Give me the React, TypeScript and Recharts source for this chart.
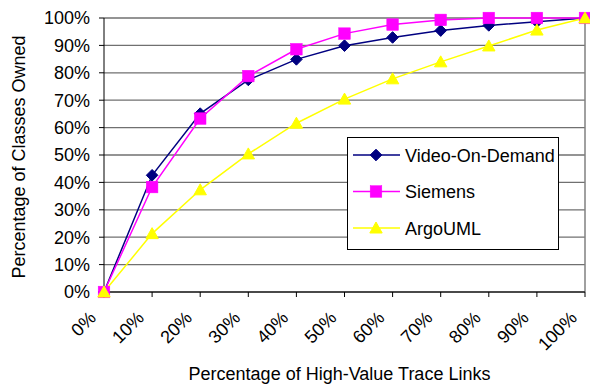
import React from 'react';
import { LineChart, Line, XAxis, YAxis, CartesianGrid, Legend, Label, ReferenceLine } from 'recharts';

const categories = ['0%', '10%', '20%', '30%', '40%', '50%', '60%', '70%', '80%', '90%', '100%'];
const videoOnDemand = [0, 42.6, 65.1, 77.4, 84.9, 89.9, 92.9, 95.4, 97.3, 98.6, 100];
const siemens = [0, 38.3, 63.3, 78.8, 88.6, 94.3, 97.6, 99.3, 100, 100, 100];
const argoUML = [0, 21.3, 37.3, 50.4, 61.6, 70.4, 77.8, 84, 89.8, 95.6, 100];
const yTicks = [0, 10, 20, 30, 40, 50, 60, 70, 80, 90, 100];

const seriesNames = ['Video-On-Demand', 'Siemens', 'ArgoUML'];
const seriesColors = ['#000080', '#FF00FF', '#FFFF00'];

const data = categories.map((c, i) => ({
  cat: c,
  vod: videoOnDemand[i],
  siemens: siemens[i],
  argo: argoUML[i],
}));

const FONT = '"Liberation Sans", Arial, sans-serif';

function Marker({ kind, cx, cy, color }: { kind: number; cx: number; cy: number; color: string }) {
  if (cx == null || cy == null) return null;
  if (kind === 0) {
    const h = 5.8;
    return <polygon points={`${cx},${cy - h} ${cx + h},${cy} ${cx},${cy + h} ${cx - h},${cy}`} fill={color} stroke={color} />;
  }
  if (kind === 1) {
    const h = 5.8;
    return <rect x={cx - h} y={cy - h} width={2 * h} height={2 * h} fill={color} stroke={color} strokeWidth={0.5} />;
  }
  const w = 6.2;
  return <polygon points={`${cx},${cy - 6} ${cx + w},${cy + 5} ${cx - w},${cy + 5}`} fill={color} stroke={color} />;
}

const makeDot = (kind: number) => (props: any) => (
  <Marker key={`d${kind}-${props.index}`} kind={kind} cx={props.cx} cy={props.cy} color={seriesColors[kind]} />
);

const XTick = (props: any) => {
  const { x, payload } = props;
  const ax = x - 7;
  const ay = 319;
  return (
    <text x={ax} y={ay} transform={`rotate(-45, ${ax}, ${ay})`} textAnchor="end" fontSize={18} fontFamily={FONT} fill="#000">
      {payload.value}
    </text>
  );
};

const LegendBox = () => (
  <div style={{ width: 210, height: 111, border: '1px solid #000', background: '#fff', position: 'relative', fontFamily: FONT }}>
    <svg width={210} height={111} style={{ position: 'absolute', left: 0, top: 0 }}>
      {seriesNames.map((n, i) => {
        const y = 17 + i * 36.5;
        return (
          <g key={n}>
            <line x1={5} x2={52} y1={y} y2={y} stroke={seriesColors[i]} strokeWidth={1.5} />
            <Marker kind={i} cx={28} cy={y} color={seriesColors[i]} />
            <text x={57} y={y + 6.5} fontSize={18} fontFamily={FONT} fill="#000">{n}</text>
          </g>
        );
      })}
    </svg>
  </div>
);

export default function App() {
  return (
    <div style={{ position: 'absolute', left: 0, top: 0, width: 590, height: 385, background: '#fff' }}>
      <LineChart width={590} height={385} data={data} margin={{ top: 18, right: 5, bottom: 0, left: 0 }}>
        <CartesianGrid vertical={false} stroke="#707070" strokeWidth={1.3} />
        <XAxis
          dataKey="cat"
          interval={0}
          height={93}
          tickSize={5}
          tickLine={{ stroke: '#000' }}
          axisLine={{ stroke: '#000' }}
          tick={<XTick />}
        >
          <Label
            content={(p: any) => {
              const vb = p.viewBox;
              return (
                <text x={vb.x + vb.width / 2 - 5} y={380} textAnchor="middle" fontSize={18} fontFamily={FONT} fill="#000">
                  Percentage of High-Value Trace Links
                </text>
              );
            }}
          />
        </XAxis>
        <YAxis
          domain={[0, 100]}
          ticks={yTicks}
          interval={0}
          width={104}
          tickSize={5}
          tickMargin={9}
          tickFormatter={(v: number) => `${v}%`}
          tick={{ fontSize: 18, fontFamily: FONT, fill: '#000' }}
          tickLine={{ stroke: '#000' }}
          axisLine={{ stroke: '#000' }}
        >
          <Label
            content={(p: any) => {
              const vb = p.viewBox;
              const cy = vb.y + vb.height / 2 + 2;
              const cx = 25;
              return (
                <text x={cx} y={cy} transform={`rotate(-90, ${cx}, ${cy})`} textAnchor="middle" fontSize={18} fontFamily={FONT} fill="#000">
                  Percentage of Classes Owned
                </text>
              );
            }}
          />
        </YAxis>
        <ReferenceLine x="100%" stroke="#808080" strokeWidth={1.5} />
        <Line type="linear" dataKey="vod" name={seriesNames[0]} stroke={seriesColors[0]} strokeWidth={1.5} dot={makeDot(0)} isAnimationActive={false} />
        <Line type="linear" dataKey="siemens" name={seriesNames[1]} stroke={seriesColors[1]} strokeWidth={1.5} dot={makeDot(1)} isAnimationActive={false} />
        <Line type="linear" dataKey="argo" name={seriesNames[2]} stroke={seriesColors[2]} strokeWidth={1.5} dot={makeDot(2)} isAnimationActive={false} />
        <Legend
          layout="vertical"
          align="center"
          verticalAlign="middle"
          content={() => <LegendBox />}
          wrapperStyle={{ position: 'absolute', left: 347, top: 137, width: 212, height: 113 }}
        />
      </LineChart>
    </div>
  );
}
